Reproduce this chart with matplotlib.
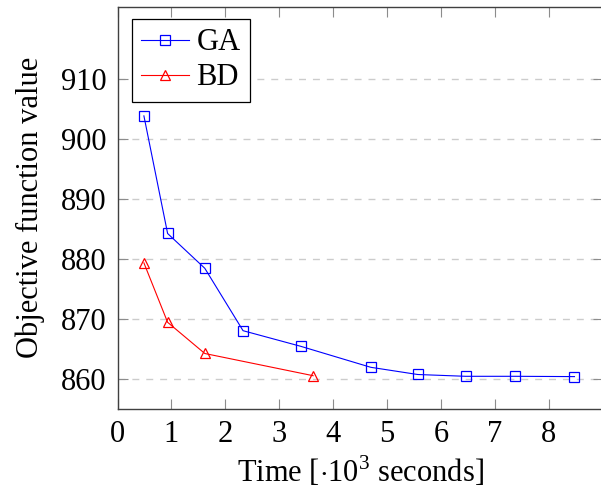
import matplotlib
matplotlib.use('Agg')
import matplotlib.pyplot as plt

# time in 10^3 s, objective values
ga_time = [0.49, 0.93, 1.62, 2.33, 3.40, 4.70, 5.57, 6.46, 7.38, 8.48]
ga_obj = [903.8, 884.2, 878.4, 868.0, 865.4, 861.9, 860.7, 860.4, 860.4, 860.35]

bd_time = [0.49, 0.93, 1.62, 3.63]
bd_obj = [879.3, 869.4, 864.2, 860.5]

x_ticks = [0, 1, 2, 3, 4, 5, 6, 7, 8]
y_ticks = [860, 870, 880, 890, 900, 910]

fs = 22
plt.rcParams['font.family'] = 'Liberation Serif'
plt.rcParams['mathtext.fontset'] = 'custom'
plt.rcParams['mathtext.rm'] = 'Liberation Serif'
plt.rcParams['font.size'] = fs

fig = plt.figure(figsize=(6.01, 4.91), dpi=100)
ax = fig.add_axes([117.5 / 601, 82.3 / 491, 485 / 601, 402 / 491])

ax.plot(ga_time, ga_obj, color='blue', lw=0.8, marker='s', ms=7.5,
        mfc='none', mew=0.9, label='GA')
ax.plot(bd_time, bd_obj, color='red', lw=0.8, marker='^', ms=7,
        mfc='none', mew=0.9, label='BD')

ax.set_xlim(0, 9)
ax.set_ylim(855, 922)
ax.set_xticks(x_ticks)
ax.set_yticks(y_ticks)
ax.yaxis.grid(True, linestyle=(0, (5, 5)), color='#cccccc', lw=1.0)
ax.set_axisbelow(True)

ax.tick_params(direction='in', top=True, right=True, length=7, width=0.8,
               color='#8c8c8c', labelsize=fs, pad=8)
for s in ax.spines.values():
    s.set_color('#404040')
    s.set_linewidth(1.0)

ax.set_xlabel('Time [$\\cdot$10$^3$ seconds]', fontsize=fs, labelpad=4)
ax.set_ylabel('Objective function value', fontsize=fs, labelpad=11)

leg = ax.legend(loc='upper left', bbox_to_anchor=(0.0305, 0.969),
                borderaxespad=0, fancybox=False, framealpha=1,
                edgecolor='black', fontsize=fs, handlelength=1.55,
                handletextpad=0.25, labelspacing=0.2, borderpad=0.3)
leg.get_frame().set_linewidth(0.9)

fig.savefig('out.png', dpi=100)
